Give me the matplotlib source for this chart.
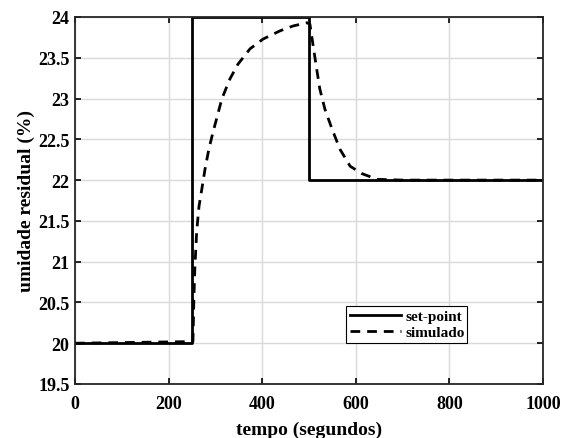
import matplotlib
matplotlib.use('Agg')
import matplotlib.pyplot as plt

# set-point
t_sp = [0, 250, 250, 500, 500, 1000]
y_sp = [20, 20, 24, 24, 22, 22]

# simulado
t_sim = [0, 252, 254, 256, 260, 265, 271, 278, 286, 295, 314, 331, 348, 374, 402,
         438, 466, 496, 502, 513, 523, 534, 549, 566, 588, 613, 645, 700, 1000]
y_sim = [20, 20.02, 20.54, 20.91, 21.37, 21.68, 21.89, 22.14, 22.38, 22.59, 23.0,
         23.24, 23.42, 23.61, 23.73, 23.83, 23.89, 23.93, 23.91, 23.49, 23.12,
         22.87, 22.63, 22.38, 22.17, 22.08, 22.01, 22.0, 22.0]

plt.rcParams['font.family'] = 'Liberation Serif'
plt.rcParams['font.weight'] = 'bold'

fig = plt.figure(figsize=(5.66, 4.39), dpi=100)
ax = fig.add_axes([75/566, 1-385/439, 468/566, 367/439])

ax.plot(t_sp, y_sp, 'k-', lw=2, label='set-point')
ax.plot(t_sim, y_sim, 'k--', lw=2, label='simulado', dashes=(3.5, 2.5))

ax.set_xlim(0, 1000)
ax.set_ylim(19.5, 24)
ax.set_xticks([0, 200, 400, 600, 800, 1000])
ax.set_yticks([19.5, 20, 20.5, 21, 21.5, 22, 22.5, 23, 23.5, 24])
ax.set_yticklabels(['19.5', '20', '20.5', '21', '21.5', '22', '22.5', '23', '23.5', '24'])
ax.grid(True, color='#d9d9d9', lw=1)
ax.set_axisbelow(True)
ax.tick_params(direction='in', top=True, right=True, labelsize=13, length=4, width=1.2)
ax.tick_params(axis='x', pad=8)
ax.tick_params(axis='y', pad=4)
for s in ax.spines.values():
    s.set_linewidth(1.3)
    s.set_color('#262626')

ax.set_xlabel('tempo (segundos)', fontsize=14, fontweight='bold', labelpad=6)
ax.set_ylabel('umidade residual (%)', fontsize=14, fontweight='bold', labelpad=2)

leg = ax.legend(loc='lower left', bbox_to_anchor=(0.58, 0.112, 0.258, 0.108), mode='expand',
                fontsize=11, fancybox=False, framealpha=1, edgecolor='k',
                handlelength=3.3, borderpad=0.25, labelspacing=0.15, handletextpad=0.3,
                borderaxespad=0)
leg.get_frame().set_linewidth(0.8)

fig.savefig('out.png', dpi=100)
